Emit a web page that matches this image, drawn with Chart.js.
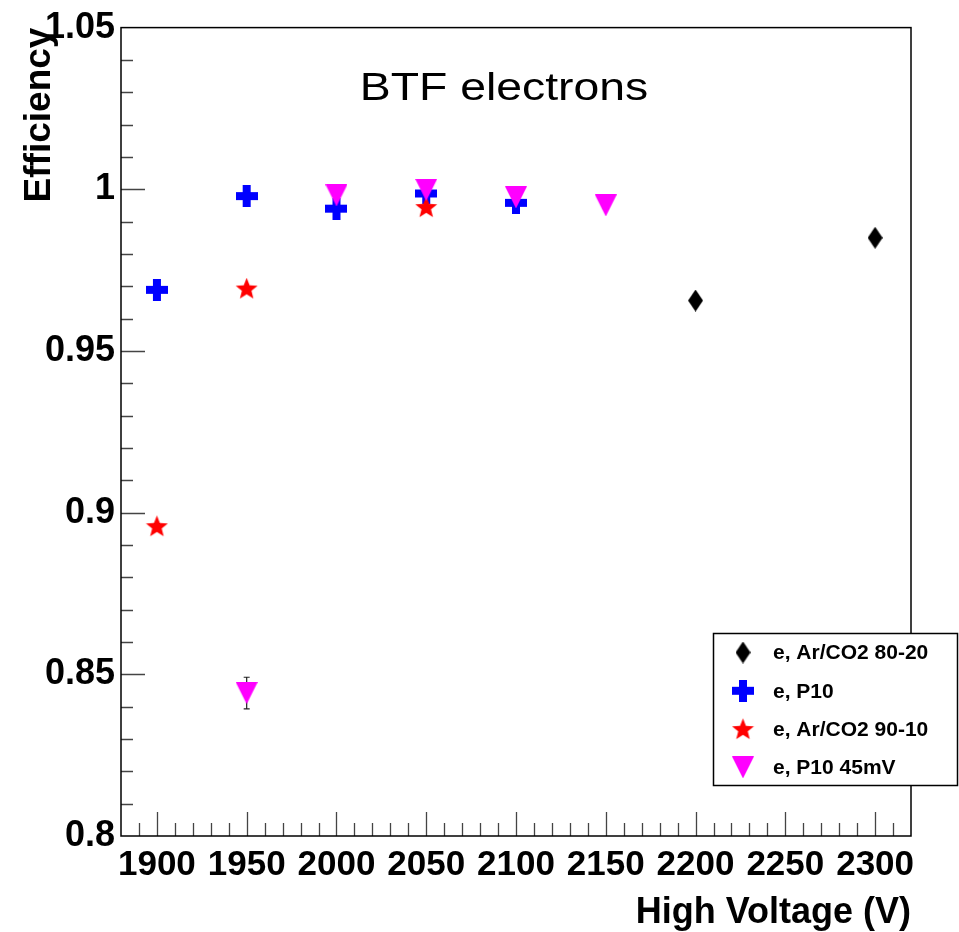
<!DOCTYPE html>
<html>
<head>
<meta charset="utf-8">
<title>BTF electrons</title>
<script src="https://cdn.jsdelivr.net/npm/chart.js@4.4.1/dist/chart.umd.min.js"></script>
<style>
  html, body { margin: 0; padding: 0; background: #fff; }
  #wrap { width: 959px; height: 932px; }
</style>
</head>
<body>
<div id="wrap"><canvas id="eff" width="959" height="932"></canvas></div>
<script>
// ---- data ----
const seriesLabels = ["e, Ar/CO2 80-20", "e, P10", "e, Ar/CO2 90-10", "e, P10 45mV"];

const hvArCO2_8020  = [2200, 2300];
const effArCO2_8020 = [0.9656, 0.9850];
const errArCO2_8020 = [0.0012, 0.0012];

const hvP10  = [1900, 1950, 2000, 2050, 2100];
const effP10 = [0.9689, 0.9979, 0.9940, 0.9987, 0.9958];
const errP10 = [0.0012, 0.0010, 0.0010, 0.0010, 0.0010];

const hvArCO2_9010  = [1900, 1950, 2050];
const effArCO2_9010 = [0.8958, 0.9693, 0.9945];
const errArCO2_9010 = [0.0008, 0.0006, 0.0005];

const hvP10_45mV  = [1950, 2000, 2050, 2100, 2150];
const effP10_45mV = [0.8442, 0.9981, 0.9998, 0.9975, 0.9950];
const errP10_45mV = [0.0049, 0.0010, 0.0010, 0.0010, 0.0010];

const xTicks = [1900, 1950, 2000, 2050, 2100, 2150, 2200, 2250, 2300];
const yTicks = [0.8, 0.85, 0.9, 0.95, 1.0, 1.05];
const xRange = [1880, 2320];
const yRange = [0.8, 1.05];

const FONT = '"Liberation Sans", Arial, Helvetica, sans-serif';

/* ===== ROOT-ish marker sprites ===== */
function sprite(w, h, draw) {
  const c = document.createElement("canvas");
  c.width = w; c.height = h;
  draw(c.getContext("2d"), w, h);
  return c;
}
const diamond = sprite(15, 22, (g, w, h) => {
  g.fillStyle = "#000";
  g.beginPath();
  g.moveTo(w / 2, 0); g.lineTo(w, h / 2); g.lineTo(w / 2, h); g.lineTo(0, h / 2);
  g.closePath(); g.fill();
});
const cross = sprite(22, 22, (g, w, h) => {
  g.fillStyle = "#0000ff";
  const t = 8;
  g.fillRect((w - t) / 2, 0, t, h);
  g.fillRect(0, (h - t) / 2, w, t);
});
const star = sprite(23, 22, (g, w, h) => {
  g.fillStyle = "#ff0000";
  const cx = w / 2, cy = 11.8, R = 11.5, r = 5.0;
  g.beginPath();
  for (let i = 0; i < 10; i++) {
    const a = -Math.PI / 2 + i * Math.PI / 5;
    const rr = i % 2 ? r : R;
    g.lineTo(cx + rr * Math.cos(a), cy + rr * Math.sin(a));
  }
  g.closePath(); g.fill();
});
const triDown = sprite(22, 22, (g, w, h) => {
  g.fillStyle = "#ff00ff";
  g.beginPath();
  g.moveTo(0, 0); g.lineTo(w, 0); g.lineTo(w / 2, h);
  g.closePath(); g.fill();
});

const pts = (xs, ys, es) => xs.map((x, i) => ({ x: x, y: ys[i], e: es[i] }));

/* ===== frame, inward ticks, error bars ===== */
const rootFrame = {
  id: "rootFrame",
  beforeDatasetsDraw(chart) {
    const { ctx, chartArea: a, scales: { x, y } } = chart;
    ctx.save();

    // error bars (under the markers)
    ctx.strokeStyle = "#222";
    ctx.lineWidth = 1.2;
    chart.data.datasets.forEach((ds) => {
      ds.data.forEach((p) => {
        const px = x.getPixelForValue(p.x);
        const y1 = y.getPixelForValue(p.y + p.e);
        const y2 = y.getPixelForValue(p.y - p.e);
        ctx.beginPath();
        ctx.moveTo(px, y1); ctx.lineTo(px, y2);
        ctx.moveTo(px - 3, y1); ctx.lineTo(px + 3, y1);
        ctx.moveTo(px - 3, y2); ctx.lineTo(px + 3, y2);
        ctx.stroke();
      });
    });

    // ticks
    ctx.strokeStyle = "#444";
    ctx.lineWidth = 1.3;
    ctx.beginPath();
    for (let v = xRange[0] + 10; v < xRange[1]; v += 10) {
      const px = Math.round(x.getPixelForValue(v)) + 0.5;
      const len = v % 50 === 0 ? 24 : 13;
      ctx.moveTo(px, a.bottom); ctx.lineTo(px, a.bottom - len);
    }
    for (let k = 1; k < 25; k++) {
      const v = yRange[0] + k * 0.01;
      const py = Math.round(y.getPixelForValue(v)) + 0.5;
      const len = k % 5 === 0 ? 24 : 12;
      ctx.moveTo(a.left, py); ctx.lineTo(a.left + len, py);
    }
    ctx.stroke();

    // frame
    ctx.strokeStyle = "#000";
    ctx.lineWidth = 1.5;
    ctx.strokeRect(a.left, a.top, a.right - a.left, a.bottom - a.top);
    ctx.restore();
  },
  afterDraw(chart) {
    const { ctx, chartArea: a } = chart;
    ctx.save();
    ctx.fillStyle = "#000";

    // plot title, inside the frame
    ctx.font = "38px " + FONT;
    ctx.textAlign = "center";
    ctx.textBaseline = "alphabetic";
    ctx.translate(504, 100);
    ctx.scale(1.22, 1);
    ctx.fillText("BTF electrons", 0, 0);
    ctx.setTransform(1, 0, 0, 1, 0, 0);

    // axis titles, right aligned like ROOT
    ctx.font = "bold 36px " + FONT;
    ctx.textAlign = "right";
    ctx.fillText("High Voltage (V)", a.right, 923);
    ctx.save();
    ctx.translate(50, a.top);
    ctx.rotate(-Math.PI / 2);
    ctx.font = "bold 37px " + FONT;
    ctx.fillText("Efficiency", 0, 0);
    ctx.restore();

    // legend box
    const lx = 713, ly = 633, lw = 246, lh = 152;
    ctx.fillStyle = "#fff";
    ctx.fillRect(lx, ly, lw, lh);
    ctx.strokeStyle = "#000";
    ctx.lineWidth = 1.5;
    ctx.strokeRect(lx + 0.5, ly + 0.5, lw - 2, lh);
    ctx.font = "bold 21px " + FONT;
    ctx.textAlign = "left";
    ctx.textBaseline = "middle";
    ctx.fillStyle = "#000";
    chart.data.datasets.forEach((ds, i) => {
      const cy = ly + 19.5 + i * 38.3;
      const img = ds.pointStyle;
      ctx.drawImage(img, 743 - img.width / 2, cy - img.height / 2);
      ctx.fillText(ds.label, 773, cy + 1);
    });
    ctx.restore();
  },
};

new Chart(document.getElementById("eff").getContext("2d"), {
  type: "scatter",
  data: {
    datasets: [
      { label: seriesLabels[0], data: pts(hvArCO2_8020, effArCO2_8020, errArCO2_8020), pointStyle: diamond, order: 3 },
      { label: seriesLabels[1], data: pts(hvP10, effP10, errP10), pointStyle: cross, order: 2 },
      { label: seriesLabels[2], data: pts(hvArCO2_9010, effArCO2_9010, errArCO2_9010), pointStyle: star, order: 1 },
      { label: seriesLabels[3], data: pts(hvP10_45mV, effP10_45mV, errP10_45mV), pointStyle: triDown, order: 0 },
    ],
  },
  options: {
    responsive: false,
    animation: false,
    devicePixelRatio: 1,
    layout: { padding: { top: 24, right: 48, left: 0, bottom: 0 } },
    plugins: { legend: { display: false }, tooltip: { enabled: false } },
    scales: {
      x: {
        type: "linear",
        min: xRange[0], max: xRange[1],
        afterBuildTicks: (s) => { s.ticks = xTicks.map((v) => ({ value: v })); },
        afterFit: (s) => { s.height = 96; },
        grid: { display: false, drawTicks: false },
        border: { display: false },
        ticks: {
          autoSkip: false, maxRotation: 0, padding: 8, color: "#000",
          font: { family: FONT, size: 35, weight: "bold" },
          callback: (v) => String(v),
        },
      },
      y: {
        type: "linear",
        min: yRange[0], max: yRange[1],
        afterBuildTicks: (s) => { s.ticks = yTicks.map((v) => ({ value: v })); },
        afterFit: (s) => { s.width = 121; },
        grid: { display: false, drawTicks: false },
        border: { display: false },
        ticks: {
          padding: 6, color: "#000",
          font: { family: FONT, size: 36, weight: "bold" },
          callback: (v) => String(+v.toFixed(2)),
        },
      },
    },
  },
  plugins: [rootFrame],
});
</script>
</body>
</html>
